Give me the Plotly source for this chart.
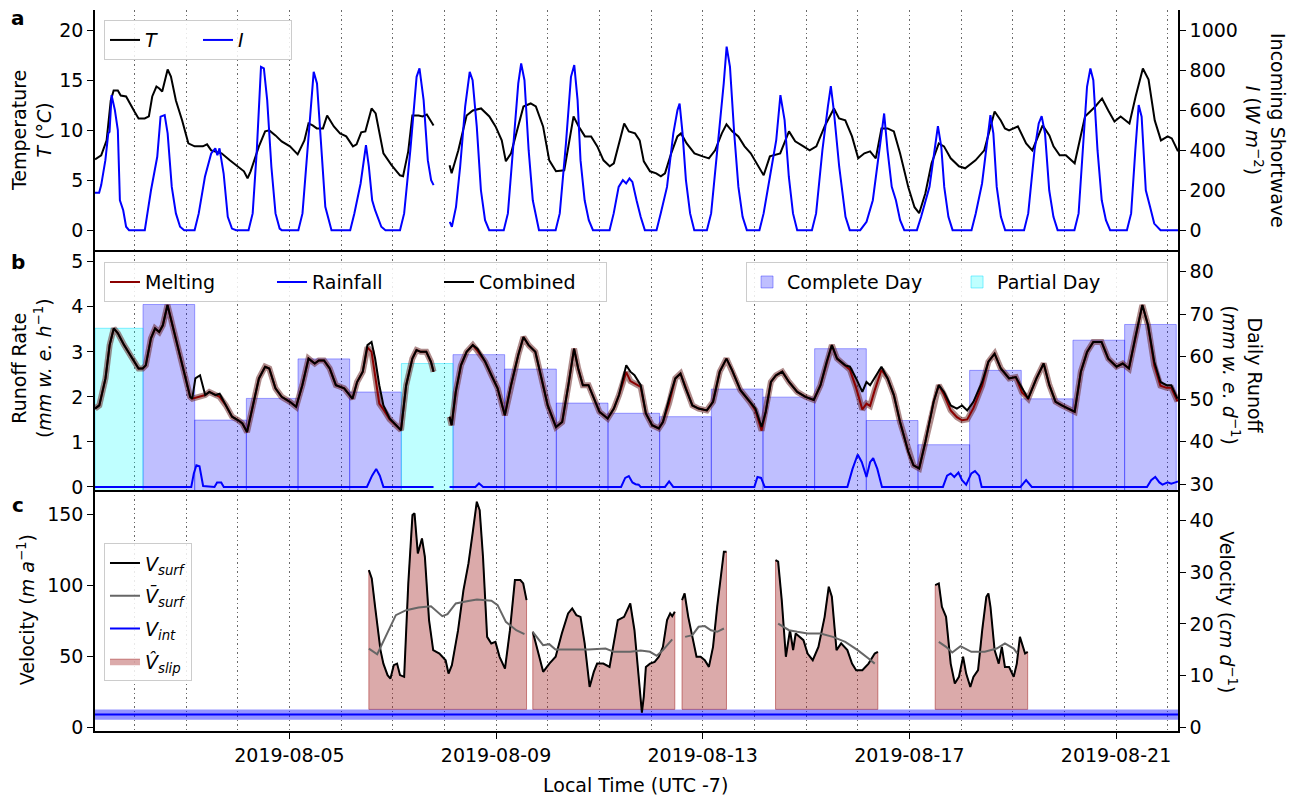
import pandas as pd
import plotly.graph_objects as go

# ---------------- data (day-of-August as decimal, value) ----------------
T_series = [(1.237,7.1),(1.357,7.5),(1.462,9.0),(1.542,13.0),(1.598,14.0),(1.679,14.0),(1.735,13.5),(1.839,13.4),(2.0,11.9),(2.08,11.2),(2.2,11.2),(2.28,11.4),(2.345,13.4),(2.426,14.4),(2.482,14.2),(2.538,13.9),(2.643,16.1),(2.707,15.4),(2.803,13.0),(2.924,11.0),(3.044,8.7),(3.165,8.4),(3.325,8.4),(3.406,8.6),(3.486,8.0),(3.687,7.7),(3.847,7.0),(4.008,6.4),(4.12,5.9),(4.19,5.2),(4.249,5.9),(4.41,8.4),(4.53,9.9),(4.61,10.0),(4.73,9.5),(4.85,8.9),(5.01,8.4),(5.16,7.6),(5.29,9.0),(5.37,10.7),(5.45,10.5),(5.53,10.2),(5.65,10.2),(5.73,11.5),(5.86,10.4),(5.98,9.7),(6.1,9.4),(6.23,8.4),(6.3,8.6),(6.39,9.8),(6.47,9.9),(6.59,12.2),(6.67,11.7),(6.82,7.7),(6.98,6.5),(7.14,5.5),(7.2,5.4),(7.3,7.9),(7.38,11.5),(7.5,11.5),(7.58,11.4),(7.66,11.6),(7.79,10.5),(7.95,None),(8.1,6.5),(8.14,5.7),(8.27,8.0),(8.43,11.5),(8.55,12.0),(8.71,12.2),(8.87,11.4),(8.99,10.4),(9.11,9.0),(9.19,6.9),(9.29,7.7),(9.53,12.4),(9.67,12.7),(9.77,12.4),(9.91,10.4),(10.03,7.0),(10.16,5.9),(10.32,6.0),(10.5,11.4),(10.6,10.4),(10.72,9.4),(10.84,9.4),(10.96,8.4),(11.08,7.0),(11.2,6.4),(11.28,6.7),(11.48,10.7),(11.57,9.9),(11.69,9.7),(11.78,9.0),(11.86,6.9),(11.98,5.9),(12.1,5.7),(12.19,5.4),(12.27,5.7),(12.39,7.7),(12.51,9.4),(12.58,9.7),(12.69,8.7),(12.84,7.7),(13.0,7.4),(13.12,7.2),(13.24,8.0),(13.37,9.7),(13.46,10.6),(13.57,9.9),(13.69,9.4),(13.81,8.4),(13.93,7.7),(14.06,6.5),(14.18,5.5),(14.3,7.4),(14.38,7.5),(14.5,7.7),(14.67,9.9),(14.79,8.9),(14.95,8.4),(15.07,8.0),(15.2,8.4),(15.36,10.4),(15.54,12.2),(15.64,11.2),(15.76,11.0),(15.89,9.4),(16.01,7.2),(16.13,7.7),(16.24,7.9),(16.35,7.2),(16.46,10.2),(16.58,10.2),(16.7,9.9),(16.82,7.7),(16.98,4.3),(17.1,2.3),(17.19,1.7),(17.31,3.7),(17.43,6.7),(17.57,8.7),(17.67,8.4),(17.8,7.2),(17.96,6.4),(18.08,6.2),(18.28,7.0),(18.45,8.0),(18.65,11.9),(18.77,11.0),(18.85,10.2),(18.93,10.0),(19.1,10.4),(19.26,8.7),(19.38,8.0),(19.58,10.5),(19.71,9.5),(19.79,8.4),(19.91,7.5),(20.03,7.5),(20.2,6.7),(20.4,11.4),(20.6,12.4),(20.73,13.2),(20.85,12.0),(20.97,10.9),(21.09,11.4),(21.26,10.7),(21.38,13.4),(21.52,16.2),(21.63,15.1),(21.75,11.0),(21.87,9.0),(22.0,9.4),(22.08,9.2),(22.2,7.9)]

I_series = [(1.237,187),(1.317,187),(1.357,226),(1.438,351),(1.494,485),(1.518,493),(1.558,677),(1.622,602),(1.679,502),(1.719,150),(1.783,100),(1.839,17),(1.896,0),
(2.201,0),(2.241,67),(2.321,200),(2.442,368),(2.506,569),(2.586,577),(2.643,485),(2.723,217),(2.803,84),(2.884,17),(2.964,0),
(3.165,0),(3.245,84),(3.365,268),(3.486,385),(3.566,410),(3.606,376),(3.647,410),(3.727,284),(3.807,67),(3.888,8),(3.968,0),
(4.209,0),(4.289,84),(4.369,401),(4.45,819),(4.506,811),(4.57,652),(4.651,318),(4.731,84),(4.811,8),(4.851,0),
(5.173,0),(5.253,84),(5.373,485),(5.47,794),(5.534,736),(5.614,401),(5.695,117),(5.815,0),
(6.177,0),(6.257,84),(6.378,234),(6.482,426),(6.538,318),(6.602,150),(6.659,100),(6.779,17),(6.859,0),
(7.141,0),(7.221,84),(7.341,401),(7.462,769),(7.518,811),(7.598,652),(7.679,351),(7.743,251),(7.791,226),(7.95,None),
(8.104,42),(8.145,17),(8.225,117),(8.305,318),(8.402,619),(8.49,794),(8.546,752),(8.627,518),(8.707,200),(8.787,50),(8.867,0),
(9.149,0),(9.229,84),(9.333,401),(9.43,736),(9.486,836),(9.55,752),(9.631,401),(9.711,150),(9.831,0),
(10.153,0),(10.233,84),(10.353,435),(10.45,769),(10.514,828),(10.578,652),(10.635,351),(10.715,150),(10.795,50),(10.876,0),
(11.197,0),(11.277,84),(11.373,217),(11.454,251),(11.518,234),(11.582,259),(11.639,242),(11.719,150),(11.799,67),(11.88,0),
(12.106,0),(12.187,84),(12.309,217),(12.431,485),(12.512,602),(12.553,635),(12.61,485),(12.675,251),(12.756,84),(12.837,0),
(13.081,0),(13.163,84),(13.285,401),(13.407,736),(13.463,920),(13.528,819),(13.61,485),(13.691,217),(13.772,67),(13.854,0),
(14.098,0),(14.179,84),(14.301,268),(14.423,451),(14.504,677),(14.585,552),(14.667,268),(14.748,84),(14.829,0),
(15.114,0),(15.195,84),(15.317,401),(15.423,619),(15.48,722),(15.537,602),(15.642,318),(15.764,67),(15.846,0),
(16.049,0),(16.171,42),(16.293,150),(16.415,401),(16.512,585),(16.577,401),(16.659,217),(16.74,150),(16.821,50),(16.902,0),
(17.146,0),(17.228,67),(17.39,217),(17.488,401),(17.553,522),(17.618,418),(17.675,217),(17.756,67),(17.837,0),
(18.203,0),(18.285,84),(18.407,234),(18.488,401),(18.569,577),(18.626,485),(18.691,217),(18.772,67),(18.854,0),
(19.22,0),(19.301,84),(19.423,401),(19.504,535),(19.561,572),(19.626,485),(19.707,200),(19.789,67),(19.87,0),
(20.195,0),(20.276,84),(20.358,401),(20.439,719),(20.504,811),(20.561,752),(20.642,401),(20.724,150),(20.805,50),(20.886,0),
(21.211,0),(21.293,84),(21.374,401),(21.439,627),(21.496,569),(21.577,200),(21.659,117),(21.74,33),(21.862,0),(22.2,0)]

# runoff rate (mm w.e. / h): day, combined, melting
runoff_series = [(1.237,1.74,1.74),(1.32,1.81,1.81),(1.44,2.41,2.41),(1.52,3.15,3.15),(1.6,3.52,3.52),(1.68,3.41,3.41),(1.8,3.15,3.15),(1.96,2.85,2.85),(2.08,2.63,2.63),(2.16,2.63,2.63),(2.22,2.7,2.7),(2.32,3.3,3.3),(2.4,3.52,3.52),(2.48,3.44,3.44),(2.55,3.59,3.59),(2.64,4.04,4.04),(2.72,3.67,3.67),(2.84,3.07,3.07),(2.96,2.56,2.56),(3.08,2.0,2.0),(3.12,1.96,1.96),(3.18,2.41,1.98),(3.27,2.48,2.02),(3.37,2.04,2.04),(3.45,2.11,2.11),(3.57,2.04,2.04),(3.65,2.07,2.0),(3.77,1.81,1.81),(3.89,1.56,1.56),(4.01,1.48,1.48),(4.09,1.41,1.41),(4.18,1.22,1.22),(4.29,1.81,1.81),(4.41,2.41,2.41),(4.53,2.67,2.67),(4.61,2.63,2.63),(4.73,2.19,2.19),(4.85,2.0,2.0),(5.01,1.89,1.89),(5.13,1.78,1.78),(5.25,2.26,2.26),(5.37,2.85,2.85),(5.49,2.74,2.74),(5.57,2.81,2.81),(5.67,2.81,2.81),(5.78,2.63,2.63),(5.9,2.26,2.26),(6.06,2.19,2.19),(6.22,1.96,1.96),(6.31,2.33,2.33),(6.42,2.56,2.56),(6.51,3.15,3.1),(6.59,3.22,3.0),(6.66,2.85,2.45),(6.74,2.26,1.85),(6.82,1.81,1.72),(6.94,1.52,1.5),(7.06,1.37,1.37),(7.16,1.26,1.26),(7.26,2.26,2.26),(7.38,2.85,2.85),(7.46,3.04,3.04),(7.54,3.0,3.0),(7.65,3.0,3.0),(7.74,2.78,2.78),(7.79,2.56,2.56),(7.95,None,None),(8.1,1.56,1.56),(8.14,1.37,1.37),(8.22,2.11,2.11),(8.32,2.7,2.7),(8.43,3.0,3.0),(8.55,3.15,3.15),(8.64,3.07,3.02),(8.79,2.78,2.78),(8.91,2.48,2.48),(9.03,2.19,2.19),(9.17,1.59,1.59),(9.29,2.26,2.26),(9.43,2.93,2.93),(9.53,3.33,3.33),(9.63,3.15,3.15),(9.76,3.0,3.0),(9.88,2.41,2.41),(10.0,1.81,1.81),(10.16,1.33,1.33),(10.28,1.44,1.44),(10.4,2.26,2.26),(10.51,3.07,3.07),(10.59,2.63,2.63),(10.68,2.26,2.26),(10.79,2.26,2.26),(10.88,2.0,2.0),(11.0,1.67,1.67),(11.16,1.52,1.52),(11.28,1.74,1.74),(11.38,2.04,2.04),(11.52,2.7,2.55),(11.6,2.56,2.35),(11.68,2.48,2.3),(11.8,2.26,2.22),(11.9,1.63,1.63),(12.02,1.37,1.37),(12.15,1.3,1.3),(12.23,1.44,1.44),(12.35,1.96,1.86),(12.47,2.41,2.41),(12.57,2.52,2.52),(12.67,2.19,2.19),(12.8,1.81,1.81),(12.92,1.74,1.74),(13.08,1.7,1.7),(13.2,1.89,1.89),(13.33,2.56,2.56),(13.46,2.85,2.85),(13.57,2.59,2.59),(13.73,2.15,2.15),(13.91,1.89,1.89),(14.02,1.74,1.7),(14.14,1.33,1.25),(14.22,1.67,1.67),(14.32,2.33,2.33),(14.42,2.48,2.48),(14.54,2.56,2.56),(14.67,2.33,2.33),(14.83,2.11,2.11),(14.99,2.0,2.0),(15.15,1.93,1.93),(15.28,2.26,2.26),(15.4,2.78,2.78),(15.5,3.15,3.15),(15.6,2.85,2.85),(15.76,2.7,2.7),(15.85,2.67,2.6),(15.97,2.41,2.2),(16.09,2.11,1.72),(16.17,2.33,1.85),(16.24,2.26,1.8),(16.33,2.44,2.15),(16.46,2.67,2.6),(16.58,2.41,2.41),(16.7,2.04,2.04),(16.82,1.44,1.44),(16.98,0.78,0.78),(17.08,0.48,0.48),(17.19,0.41,0.41),(17.31,1.0,1.0),(17.47,1.89,1.89),(17.57,2.26,2.26),(17.67,2.11,2.05),(17.8,1.81,1.7),(17.92,1.74,1.55),(18.02,1.81,1.48),(18.12,1.7,1.5),(18.24,1.89,1.75),(18.41,2.33,2.25),(18.53,2.78,2.78),(18.65,2.96,2.96),(18.77,2.63,2.63),(18.93,2.41,2.41),(19.06,2.44,2.44),(19.18,2.19,2.1),(19.3,1.96,1.96),(19.46,2.41,2.41),(19.6,2.74,2.74),(19.71,2.26,2.26),(19.83,1.89,1.89),(19.95,1.81,1.81),(20.07,1.74,1.74),(20.2,1.67,1.67),(20.32,2.56,2.56),(20.44,3.0,3.0),(20.56,3.22,3.22),(20.72,3.22,3.22),(20.85,2.85,2.85),(21.01,2.67,2.67),(21.13,2.74,2.74),(21.25,2.63,2.63),(21.37,3.3,3.3),(21.51,4.04,4.04),(21.62,3.59,3.59),(21.74,2.78,2.7),(21.86,2.33,2.25),(21.98,2.26,2.2),(22.07,2.26,2.2),(22.19,1.96,1.9)]

rain_series = [(1.237,0),(3.1,0),(3.15,0.3),(3.2,0.48),(3.26,0.46),(3.33,0.02),(3.55,0),(3.6,0.1),(3.68,0.1),(3.73,0),(6.5,0),(6.6,0.25),(6.68,0.4),(6.75,0.25),(6.82,0),(7.79,0),(7.95,None),(8.1,0),(8.6,0),(8.67,0.08),(8.75,0),(11.42,0),(11.5,0.2),(11.57,0.24),(11.64,0.1),(11.7,0.06),(11.76,0.05),(11.8,0),(12.27,0),(12.35,0.12),(12.43,0),(14.0,0),(14.06,0.22),(14.13,0.2),(14.2,0),(15.8,0),(15.9,0.4),(16.0,0.72),(16.08,0.55),(16.17,0.22),(16.24,0.55),(16.3,0.64),(16.38,0.4),(16.47,0),(17.65,0),(17.73,0.25),(17.8,0.3),(17.87,0.22),(17.95,0.32),(18.02,0.15),(18.1,0.05),(18.2,0.3),(18.27,0.35),(18.35,0.25),(18.4,0),(19.15,0),(19.26,0.15),(19.37,0),(21.6,0),(21.68,0.15),(21.76,0.22),(21.84,0.1),(21.9,0.05),(22.0,0.1),(22.07,0.07),(22.15,0.1),(22.2,0.12)]

daily_date = ["2019-08-01","2019-08-02","2019-08-03","2019-08-04","2019-08-05","2019-08-06","2019-08-07",
              "2019-08-08","2019-08-09","2019-08-10","2019-08-11","2019-08-12","2019-08-13","2019-08-14",
              "2019-08-15","2019-08-16","2019-08-17","2019-08-18","2019-08-19","2019-08-20","2019-08-21"]
daily_runoff = [66.7,72.3,45.1,50.2,59.5,51.7,58.4,60.5,57.1,49.1,46.7,45.9,52.4,50.5,61.9,45.0,39.3,56.8,50.1,63.9,67.6]
daily_partial = [True,False,False,False,False,False,True,False,False,False,False,False,False,False,False,False,False,False,False,False,False]
day_window_start_hour = 4

# surface velocity (m/a)
V_surf_series = [(6.538,110.8),(6.594,104.9),(6.659,85),(6.715,68.5),(6.763,54.5),(6.819,45),(6.9,36.9),(6.956,34.5),(7.02,43.9),(7.084,45),(7.141,36.9),(7.221,35.7),(7.301,101.4),(7.382,149.5),(7.422,150.7),(7.486,122.5),(7.566,133.1),(7.622,120.2),(7.703,75.6),(7.783,54.5),(7.904,52.1),(8.024,47.4),(8.08,38),(8.145,43.9),(8.265,68.5),(8.369,96.7),(8.466,115.5),(8.546,136.6),(8.627,158.9),(8.683,153),(8.747,120.2),(8.827,63.8),(8.908,59.2),(8.988,60.3),(9.068,49.8),(9.173,41.5),(9.269,68.5),(9.365,103.8),(9.47,103.8),(9.526,101.4),(9.59,89.7),(9.65,None),
(9.711,67.4),(9.791,56.8),(9.912,39.2),(10.032,45),(10.153,49.8),(10.273,66.2),(10.394,80.3),(10.474,83.8),(10.554,79.1),(10.635,77.9),(10.715,59.2),(10.811,28.6),(10.892,39.2),(10.956,45),(11.076,45),(11.197,42.7),(11.357,75.6),(11.478,77.9),(11.598,87.3),(11.679,68.5),(11.759,35.7),(11.823,10.5),(11.86,22),(11.9,42.7),(11.98,45),(12.07,46.2),(12.15,49.8),(12.23,56.8),(12.31,75.6),(12.37,80.3),(12.41,78.4),(12.46,81.5),(12.53,None),
(12.6,89.7),(12.65,94.4),(12.72,77.9),(12.8,63.8),(12.88,49.8),(12.96,49.8),(13.04,47.4),(13.12,42.7),(13.2,56.8),(13.28,85),(13.35,107.3),(13.41,123.7),(13.46,123.7),(13.9,None),
(14.41,117.8),(14.46,116.7),(14.53,89.7),(14.61,49.8),(14.69,68.5),(14.75,54.5),(14.8,66.2),(14.87,63.8),(14.95,61.5),(15.03,52.1),(15.13,47.4),(15.24,56.8),(15.36,77.9),(15.44,99.1),(15.5,92),(15.59,54.5),(15.68,59.2),(15.8,54.5),(15.89,45),(15.97,40.4),(16.09,40.4),(16.21,45),(16.33,52.1),(16.39,53.3),(17.0,None),
(17.5,100.2),(17.57,101.4),(17.63,85),(17.71,77.9),(17.8,45),(17.88,31),(17.96,35.7),(18.04,49.8),(18.1,38),(18.18,28.6),(18.24,35.7),(18.33,40.4),(18.41,68.5),(18.49,92),(18.53,94.4),(18.57,85),(18.65,54.5),(18.73,45),(18.79,56.8),(18.85,42.7),(18.93,42.7),(19.02,35.7),(19.08,45),(19.14,63.8),(19.2,56.8),(19.24,52.1),(19.29,53.3)]

V_mean_series = [(6.538,55.6),(6.7,51.6),(6.86,63.8),(7.06,79.1),(7.26,82.6),(7.5,84.5),(7.74,85.4),(7.86,81.5),(7.96,78.4),(8.06,79.8),(8.22,87.3),(8.46,89),(8.63,90.1),(8.91,89.2),(9.03,86.2),(9.19,74.4),(9.39,68.5),(9.55,65.7),(9.65,None),
(9.71,67.4),(9.91,58),(10.03,58.7),(10.15,54.9),(10.47,54.9),(10.79,54.9),(11.12,55.6),(11.28,53.3),(11.6,53.3),(11.8,54.2),(11.98,53.3),(12.11,50.5),(12.23,54.5),(12.35,59.2),(12.41,62),(12.53,None),
(12.66,63.8),(12.8,65),(12.92,70.9),(13.04,71.4),(13.16,68.5),(13.28,67.4),(13.41,69.7),(13.9,None),
(14.46,73.2),(14.67,68.5),(14.83,67.4),(15.03,66.2),(15.28,66.2),(15.52,63.8),(15.76,60.3),(16.0,54.5),(16.21,48.6),(16.33,45),(17.0,None),
(17.57,60.3),(17.71,56.8),(17.83,52.8),(17.99,57.3),(18.2,53.3),(18.46,53.3),(18.69,55.6),(18.85,59.2),(19.02,55.6),(19.09,52.1)]

V_int = 9.2
V_int_low = 5.5
V_int_high = 12.8

# ---------------- helpers ----------------
DAY0 = pd.Timestamp("2019-08-01")

def to_time(days):
    return [DAY0 + pd.Timedelta(days=d - 1) for d in days]

def col(series, i):
    return [p[i] for p in series]

FONT = "DejaVu Sans"
FS = 19
x_lo = to_time([T_series[0][0]])[0]
x_hi = to_time([T_series[-1][0]])[0]

fig = go.Figure()

# ---- panel a ----
fig.add_trace(go.Scatter(x=to_time(col(T_series, 0)), y=col(T_series, 1), mode="lines",
                         line=dict(color="black", width=2), name="<i>T</i>", legendrank=1,
                         xaxis="x3", yaxis="y3", legend="legend"))
fig.add_trace(go.Scatter(x=to_time(col(I_series, 0)), y=col(I_series, 1), mode="lines",
                         line=dict(color="#0000ff", width=2), name="<i>I</i>", legendrank=2,
                         xaxis="x3", yaxis="y4", legend="legend"))

# ---- panel b: daily bars ----
for rank, (partial, name, fc, lc) in enumerate([(False, "Complete Day", "rgba(0,0,255,0.25)", "rgba(0,0,255,0.35)"),
                                               (True, "Partial Day", "rgba(0,255,255,0.25)", "rgba(0,220,255,0.45)")]):
    xs, ws, ys = [], [], []
    for d, v, p in zip(daily_date, daily_runoff, daily_partial):
        if p != partial:
            continue
        s = pd.Timestamp(d) + pd.Timedelta(hours=day_window_start_hour)
        e = s + pd.Timedelta(days=1)
        s = max(s, x_lo)
        xs.append(s + (e - s) / 2)
        ws.append((e - s).total_seconds() * 1000)
        ys.append(v)
    fig.add_trace(go.Bar(x=xs, y=ys, width=ws, name=name, legendrank=rank + 1,
                         marker=dict(color=fc, line=dict(color=lc, width=1)),
                         xaxis="x2", yaxis="y2", legend="legend3"))

bt = to_time(col(runoff_series, 0))
fig.add_trace(go.Scatter(x=bt, y=col(runoff_series, 2), mode="lines", showlegend=False, hoverinfo="skip",
                         line=dict(color="rgba(95,25,25,0.5)", width=6), xaxis="x2", yaxis="y6"))
fig.add_trace(go.Scatter(x=bt, y=col(runoff_series, 2), mode="lines", name="Melting", legendrank=1,
                         line=dict(color="#8b0000", width=2), xaxis="x2", yaxis="y6", legend="legend2"))
fig.add_trace(go.Scatter(x=to_time(col(rain_series, 0)), y=col(rain_series, 1), mode="lines", name="Rainfall",
                         legendrank=2, line=dict(color="#0000ff", width=2), xaxis="x2", yaxis="y6", legend="legend2"))
fig.add_trace(go.Scatter(x=bt, y=col(runoff_series, 1), mode="lines", name="Combined", legendrank=3,
                         line=dict(color="black", width=2), xaxis="x2", yaxis="y6", legend="legend2"))

# ---- panel c ----
segs, cur = [], []
for d, v in V_surf_series:
    if v is None:
        if cur:
            segs.append(cur)
        cur = []
    else:
        cur.append((d, v))
if cur:
    segs.append(cur)
for k, seg in enumerate(segs):
    ds = col(seg, 0)
    vs = col(seg, 1)
    fig.add_trace(go.Scatter(x=to_time([ds[0]] + ds + [ds[-1], ds[0]]),
                             y=[V_int_high] + vs + [V_int_high, V_int_high],
                             mode="lines", fill="toself", fillcolor="rgba(165,42,42,0.4)",
                             line=dict(color="rgba(165,42,42,0.55)", width=1),
                             name="<i>V̂</i><sub><i>slip</i></sub>", showlegend=(k == 0), legendgroup="slip",
                             legendrank=4, xaxis="x", yaxis="y", legend="legend4"))

fig.add_trace(go.Scatter(x=[x_lo, x_hi], y=[V_int_low, V_int_low], mode="lines", line=dict(width=0),
                         showlegend=False, hoverinfo="skip", xaxis="x", yaxis="y"))
fig.add_trace(go.Scatter(x=[x_lo, x_hi], y=[V_int_high, V_int_high], mode="lines", line=dict(width=0),
                         fill="tonexty", fillcolor="rgba(0,0,255,0.42)",
                         showlegend=False, hoverinfo="skip", xaxis="x", yaxis="y"))
fig.add_trace(go.Scatter(x=[x_lo, x_hi], y=[V_int, V_int], mode="lines", line=dict(color="#0000ff", width=2),
                         name="<i>V</i><sub><i>int</i></sub>", legendgroup="int", legendrank=3,
                         xaxis="x", yaxis="y", legend="legend4"))
fig.add_trace(go.Scatter(x=to_time(col(V_surf_series, 0)), y=col(V_surf_series, 1), mode="lines",
                         line=dict(color="black", width=2), name="<i>V</i><sub><i>surf</i></sub>",
                         legendgroup="surf", legendrank=1, xaxis="x", yaxis="y", legend="legend4"))
fig.add_trace(go.Scatter(x=to_time(col(V_mean_series, 0)), y=col(V_mean_series, 1), mode="lines",
                         line=dict(color="#666666", width=2), name="<i>V̄</i><sub><i>surf</i></sub>",
                         legendgroup="mean", legendrank=2, xaxis="x", yaxis="y", legend="legend4"))
# empty trace so that the right-hand velocity axis (cm/d) is drawn
fig.add_trace(go.Scatter(x=[x_lo], y=[None], mode="lines", showlegend=False, hoverinfo="skip",
                         xaxis="x", yaxis="y5"))

# ---------------- layout ----------------
GRID = dict(showgrid=True, gridcolor="rgba(80,80,80,0.85)", griddash="1.5px,3px", gridwidth=1)
DAYMS = 86400000
common_x = dict(type="date", range=[x_lo, x_hi], showline=True, linecolor="black", linewidth=1.5,
                mirror=False, zeroline=False, **GRID)

ax_y = dict(showline=True, linecolor="black", linewidth=1.5, ticks="outside", ticklen=6, tickwidth=1.3,
            tickcolor="black", showgrid=False, zeroline=False,
            tickfont=dict(family=FONT, size=FS, color="black"))

d_c = [0, 0.33398]
d_b = [0.33398, 0.66699]
d_a = [0.66699, 1]

legend_style = dict(bgcolor="rgba(255,255,255,0.85)", bordercolor="#cccccc", borderwidth=1,
                    font=dict(family=FONT, size=FS, color="black"))

fig.update_layout(
    width=1297, height=796, margin=dict(l=95, r=119, t=10, b=65),
    paper_bgcolor="white", plot_bgcolor="white", barmode="overlay",
    font=dict(family=FONT, size=FS, color="black"),
    xaxis=dict(**common_x, anchor="y", domain=[0, 1], ticks="outside", ticklen=6, tickwidth=1.3,
               tickcolor="black", tick0="2019-08-01", dtick=4 * DAYMS, tickformat="%Y-%m-%d",
               tickfont=dict(family=FONT, size=FS, color="black"),
               minor=dict(dtick=DAYMS, tick0="2019-08-01", ticks="", **GRID)),
    xaxis2=dict(**common_x, anchor="y2", domain=[0, 1], matches="x", showticklabels=False, ticks="",
                tick0="2019-08-01", dtick=DAYMS),
    xaxis3=dict(**common_x, anchor="y3", domain=[0, 1], matches="x", showticklabels=False, ticks="",
                tick0="2019-08-01", dtick=DAYMS),
    yaxis=dict(**ax_y, domain=d_c, anchor="x", side="left", range=[-2.4, 167], tickvals=[0, 50, 100, 150]),
    yaxis5=dict(**ax_y, overlaying="y", anchor="x", side="right", range=[-0.66, 45.8],
                tickvals=[0, 10, 20, 30, 40]),
    yaxis2=dict(**ax_y, domain=d_b, anchor="x2", side="right", range=[28.6, 85.1],
                tickvals=[30, 40, 50, 60, 70, 80]),
    yaxis6=dict(**ax_y, overlaying="y2", anchor="x2", side="left", range=[-0.073, 5.26],
                tickvals=[0, 1, 2, 3, 4, 5]),
    yaxis3=dict(**ax_y, domain=d_a, anchor="x3", side="left", range=[-2.0, 22.07],
                tickvals=[0, 5, 10, 15, 20]),
    yaxis4=dict(**ax_y, overlaying="y3", anchor="x3", side="right", range=[-100, 1104],
                tickvals=[0, 200, 400, 600, 800, 1000]),
    legend=dict(**legend_style, x=0.0083, y=0.986, xanchor="left", yanchor="top", orientation="h",
                entrywidth=48, traceorder="normal"),
    legend2=dict(**legend_style, x=0.0083, y=0.6503, xanchor="left", yanchor="top", orientation="h",
                 entrywidth=122, traceorder="normal"),
    legend3=dict(**legend_style, x=0.9908, y=0.6503, xanchor="right", yanchor="top", orientation="h",
                 entrywidth=165, traceorder="normal"),
    legend4=dict(**legend_style, x=0.0083, y=0.2604, xanchor="left", yanchor="top", orientation="v",
                 traceorder="grouped", tracegroupgap=5),
    showlegend=True,
)

ann = dict(xref="paper", yref="paper", showarrow=False, font=dict(family=FONT, size=FS, color="black"))
texts = [
    ("Temperature<br><i>T</i> (°<i>C</i>)", -0.0591, 0.8335, -90),
    ("Runoff Rate<br>(<i>mm w. e. h</i><sup>−1</sup>)", -0.0591, 0.5033, -90),
    ("Velocity (<i>m a</i><sup>−1</sup>)", -0.0637, 0.1675, -90),
    ("Incoming Shortwave<br><i>I</i> (<i>W m</i><sup>−2</sup>)", 1.0813, 0.8335, 90),
    ("Daily Runoff<br>(<i>mm w. e. d</i><sup>−1</sup>)", 1.0600, 0.4935, 90),
    ("Velocity (<i>cm d</i><sup>−1</sup>)", 1.0462, 0.1647, 90),
    ("Local Time (UTC -7)", 0.4995, -0.0745, 0),
]
for t, x, y, a in texts:
    fig.add_annotation(text=t, x=x, y=y, textangle=a, xanchor="center", yanchor="middle", **ann)
for t, y in [("a", 0.989), ("b", 0.6503), ("c", 0.3132)]:
    fig.add_annotation(text="<b>" + t + "</b>", x=-0.0711, y=y, xanchor="center", yanchor="middle",
                       xref="paper", yref="paper", showarrow=False,
                       font=dict(family=FONT, size=20, color="black"))

fig.write_html("out.html")
